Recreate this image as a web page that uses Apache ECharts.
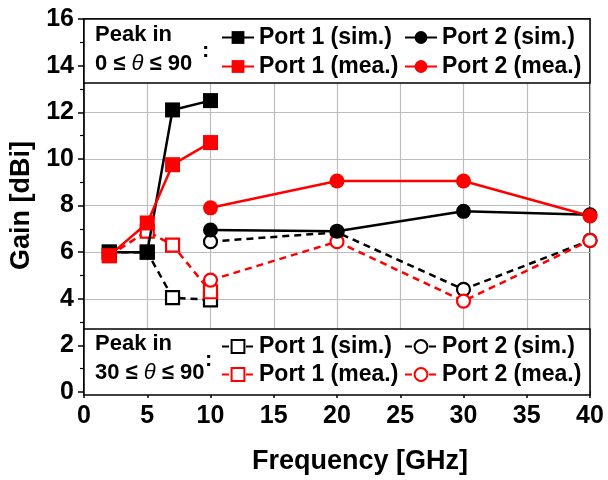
<!DOCTYPE html>
<html><head><meta charset="utf-8">
<script src="https://cdn.jsdelivr.net/npm/echarts@6/dist/echarts.min.js"></script>
<style>html,body{margin:0;padding:0;background:#fff}#c{width:608px;height:480px}</style>
</head><body><div id="c"></div>
<script>
var freqP1 = [2, 5, 7, 10];
var freqP2 = [10, 20, 30, 40];
var p1Sim = [6.0, 6.0, 12.1, 12.5];
var p1Mea = [5.85, 7.25, 9.75, 10.7];
var p2Sim = [6.95, 6.9, 7.75, 7.6];
var p2Mea = [7.9, 9.05, 9.05, 7.55];
var p1Sim30 = [6.0, 6.0, 4.05, 3.95];
var p1Mea30 = [5.85, 6.9, 6.3, 4.3];
var p2Sim30 = [6.45, 6.85, 4.4, 6.5];
var p2Mea30 = [4.8, 6.45, 3.9, 6.5];
var xTicks = [0, 5, 10, 15, 20, 25, 30, 35, 40];
var yTicks = [0, 2, 4, 6, 8, 10, 12, 14, 16];

var FONT = '"Liberation Sans", Arial, sans-serif';
var RED = '#ff0000', BLK = '#000000';
function pairs(xs, ys) { return xs.map(function (x, i) { return [x, ys[i]]; }); }
function solid(name, xs, ys, color, sym) {
  return { name: name, type: 'line', data: pairs(xs, ys), symbol: sym, symbolSize: 15,
    lineStyle: { color: color, width: 2.5 }, itemStyle: { color: color }, z: 3 };
}
function dashed(name, xs, ys, color, sym) {
  return { name: name, type: 'line', data: pairs(xs, ys), symbol: sym, symbolSize: 13,
    lineStyle: { color: color, width: 2.5, type: [7, 5] },
    itemStyle: { color: '#fff', borderColor: color, borderWidth: 2.2 }, z: 2 };
}
var series = [
  dashed('Port 1 (sim.) ', freqP1, p1Sim30, BLK, 'rect'),
  dashed('Port 2 (sim.) ', freqP2, p2Sim30, BLK, 'circle'),
  dashed('Port 1 (mea.) ', freqP1, p1Mea30, RED, 'rect'),
  dashed('Port 2 (mea.) ', freqP2, p2Mea30, RED, 'circle'),
  solid('Port 1 (sim.)', freqP1, p1Sim, BLK, 'rect'),
  solid('Port 2 (sim.)', freqP2, p2Sim, BLK, 'circle'),
  solid('Port 1 (mea.)', freqP1, p1Mea, RED, 'rect'),
  solid('Port 2 (mea.)', freqP2, p2Mea, RED, 'circle')
];
function lg(name, left, top) {
  return { data: [name], left: left, top: top, itemWidth: 32, itemHeight: 16, padding: 0,
    selectedMode: false, formatter: function (n) { return n.trim(); },
    textStyle: { fontFamily: FONT, fontSize: 23, fontWeight: 'bold', color: '#000' } };
}
var legends = [
  lg('Port 1 (sim.)', 221, 26), lg('Port 2 (sim.)', 404, 26),
  lg('Port 1 (mea.)', 221, 55), lg('Port 2 (mea.)', 404, 55),
  lg('Port 1 (sim.) ', 221, 335), lg('Port 2 (sim.) ', 404, 335),
  lg('Port 1 (mea.) ', 221, 363), lg('Port 2 (mea.) ', 404, 363)
];
var chart = echarts.init(document.getElementById('c'), null, { renderer: 'canvas' });
var txtRich = { a: { fontFamily: FONT, fontSize: 22, fontWeight: 'bold', fill: '#000', lineHeight: 29 },
  b: { fontFamily: FONT, fontSize: 22, fontStyle: 'italic', fontWeight: 'normal', fill: '#000', lineHeight: 29 } };
chart.setOption({
  animation: false,
  backgroundColor: '#fff',
  grid: { left: 84, right: 18, top: 19, bottom: 85, show: true, borderColor: '#000', borderWidth: 1.5 },
  xAxis: { type: 'value', min: 0, max: 40, interval: 5,
    name: 'Frequency [GHz]', nameLocation: 'middle', nameGap: 56,
    nameTextStyle: { fontFamily: FONT, fontSize: 27, fontWeight: 'bold', color: '#000', padding: [0, 0, 0, 46] },
    axisLine: { lineStyle: { color: '#000', width: 1.5 } },
    axisTick: { length: 6, lineStyle: { color: '#000', width: 1.5 } },
    axisLabel: { margin: 12, fontFamily: FONT, fontSize: 25, fontWeight: 'bold', color: '#000',
      formatter: function (v) { return xTicks.indexOf(v) >= 0 ? String(v) : ''; } },
    splitLine: { show: true, lineStyle: { color: '#bdbdbd', width: 1.2 } } },
  yAxis: { type: 'value', min: 0, max: 16, interval: 2,
    name: 'Gain [dBi]', nameLocation: 'middle', nameGap: 44,
    nameTextStyle: { fontFamily: FONT, fontSize: 27, fontWeight: 'bold', color: '#000' },
    axisLine: { show: true, lineStyle: { color: '#000', width: 1.5 } },
    axisTick: { show: true, length: 6, lineStyle: { color: '#000', width: 1.5 } },
    minorTick: { show: true, splitNumber: 2, length: 4, lineStyle: { color: '#000', width: 1.2 } },
    axisLabel: { margin: 10, fontFamily: FONT, fontSize: 25, fontWeight: 'bold', color: '#000',
      formatter: function (v) { return yTicks.indexOf(v) >= 0 ? String(v) : ''; } },
    splitLine: { show: true, lineStyle: { color: '#bdbdbd', width: 1.2 } } },
  legend: legends,
  graphic: [
    { type: 'rect', z: 1, shape: { x: 84, y: 19, width: 506, height: 64 },
      style: { fill: '#fff', stroke: '#000', lineWidth: 1.5 } },
    { type: 'rect', z: 1, shape: { x: 84, y: 329, width: 506, height: 66 },
      style: { fill: '#fff', stroke: '#000', lineWidth: 1.5 } },
    { type: 'text', z: 5, left: 95, top: 24,
      style: { text: '{a|Peak in}\n{a|0 ≤ }{b|θ}{a| ≤ 90}', rich: txtRich } },
    { type: 'text', z: 5, left: 202, top: 40,
      style: { text: ':', fontFamily: FONT, fontSize: 22, fontWeight: 'bold', fill: '#000' } },
    { type: 'text', z: 5, left: 95, top: 333,
      style: { text: '{a|Peak in}\n{a|30 ≤ }{b|θ}{a| ≤ 90}', rich: txtRich } },
    { type: 'text', z: 5, left: 205, top: 349,
      style: { text: ':', fontFamily: FONT, fontSize: 22, fontWeight: 'bold', fill: '#000' } }
  ],
  series: series
});
</script></body></html>
